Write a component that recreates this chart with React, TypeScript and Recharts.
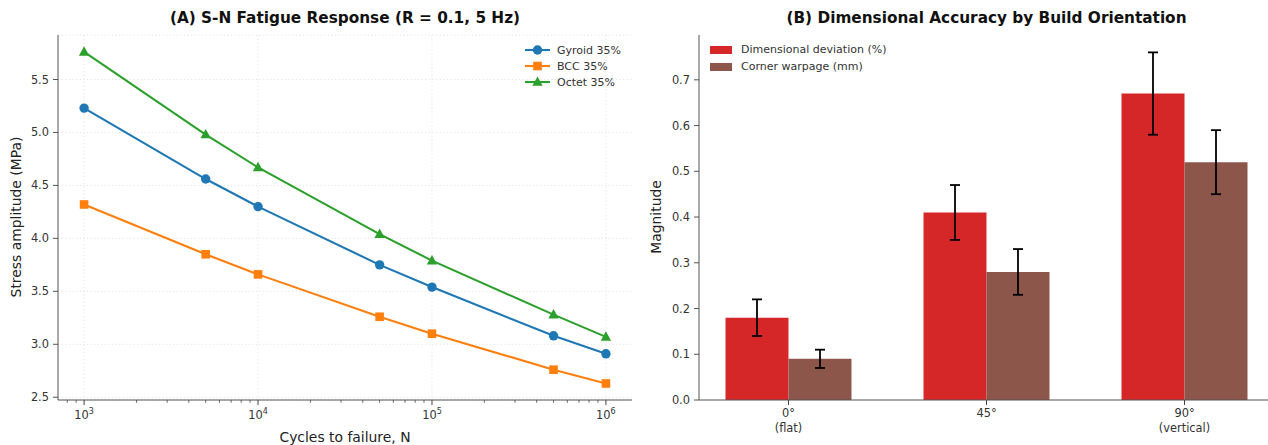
import React from "react"
import {
  LineChart,
  Line,
  BarChart,
  Bar,
  ErrorBar,
  XAxis,
  YAxis,
  CartesianGrid,
  ReferenceLine,
} from "recharts"

const FONT = "'DejaVu Sans', Verdana, sans-serif"

// (A) S-N fatigue
const cycles = [1e3, 5e3, 1e4, 5e4, 1e5, 5e5, 1e6]
const gyroid = [5.23, 4.56, 4.3, 3.75, 3.54, 3.08, 2.91]
const bcc = [4.32, 3.85, 3.66, 3.26, 3.1, 2.76, 2.63]
const octet = [5.76, 4.98, 4.67, 4.04, 3.79, 3.28, 3.07]
const majorCycleTicks = [1e3, 1e4, 1e5, 1e6]
const minorCycleTicks = [
  800, 900,
  2e3, 3e3, 4e3, 5e3, 6e3, 7e3, 8e3, 9e3,
  2e4, 3e4, 4e4, 5e4, 6e4, 7e4, 8e4, 9e4,
  2e5, 3e5, 4e5, 5e5, 6e5, 7e5, 8e5, 9e5,
]
const stressTicks = [2.5, 3.0, 3.5, 4.0, 4.5, 5.0, 5.5]

// (B) dimensional accuracy
const orientations = ["0°", "45°", "90°"]
const orientationNotes = ["(flat)", "", "(vertical)"]
const deviation = [0.18, 0.41, 0.67]
const deviationErr = [0.04, 0.06, 0.09]
const warpage = [0.09, 0.28, 0.52]
const warpageErr = [0.02, 0.05, 0.07]
const magnitudeTicks = [0, 0.1, 0.2, 0.3, 0.4, 0.5, 0.6, 0.7]

const fatigueData = cycles.map((n, i) => ({
  n,
  gyroid: gyroid[i],
  bcc: bcc[i],
  octet: octet[i],
}))

const accuracyData = orientations.map((label, i) => ({
  pos: i,
  label,
  deviation: deviation[i],
  deviationErr: deviationErr[i],
  warpage: warpage[i],
  warpageErr: warpageErr[i],
}))

const lineSeries = [
  { key: "gyroid", name: "Gyroid 35%", color: "#1f77b4", shape: "circle" },
  { key: "bcc", name: "BCC 35%", color: "#ff7f0e", shape: "square" },
  { key: "octet", name: "Octet 35%", color: "#2ca02c", shape: "triangle" },
]

const barSeries = [
  { key: "deviation", err: "deviationErr", name: "Dimensional deviation (%)", color: "#d62728" },
  { key: "warpage", err: "warpageErr", name: "Corner warpage (mm)", color: "#8c564b" },
]

const TICK_FONT = 11.4
const GRID = "#e3e3e3"

function Marker({ shape, cx, cy, color }: any) {
  if (cx == null || cy == null) return null
  if (shape === "square") {
    return <rect x={cx - 4.3} y={cy - 4.3} width={8.6} height={8.6} fill={color} />
  }
  if (shape === "triangle") {
    return (
      <polygon
        points={`${cx},${cy - 5.6} ${cx - 5.2},${cy + 3.8} ${cx + 5.2},${cy + 3.8}`}
        fill={color}
      />
    )
  }
  return <circle cx={cx} cy={cy} r={4.7} fill={color} />
}

function CycleTick({ x, y, payload }: any) {
  const v = payload.value
  const exp = Math.round(Math.log10(v))
  const major = majorCycleTicks.includes(v)
  return (
    <g>
      <line x1={x} x2={x} y1={y} y2={y + (major ? 5 : 2.8)} stroke="#444" strokeWidth={major ? 1 : 0.8} />
      {major && (
        <text x={x} y={y + 19} textAnchor="middle" fontSize={TICK_FONT} fill="#333" fontFamily={FONT}>
          10
          <tspan dy={-5} fontSize={8}>
            {exp}
          </tspan>
        </text>
      )}
    </g>
  )
}

function OrientationTick({ x, y, payload }: any) {
  const i = payload.value
  return (
    <g>
      <line x1={x} x2={x} y1={y} y2={y + 5} stroke="#444" />
      <text x={x} y={y + 17} textAnchor="middle" fontSize={TICK_FONT} fill="#333" fontFamily={FONT}>
        {orientations[i]}
      </text>
      {orientationNotes[i] && (
        <text x={x} y={y + 32} textAnchor="middle" fontSize={TICK_FONT} fill="#333" fontFamily={FONT}>
          {orientationNotes[i]}
        </text>
      )}
    </g>
  )
}

const titleStyle: React.CSSProperties = {
  position: "absolute",
  top: 9,
  fontSize: 15.3,
  fontWeight: "bold",
  color: "#111",
  textAlign: "center",
  whiteSpace: "nowrap",
}

const axisTitleStyle: React.CSSProperties = {
  position: "absolute",
  fontSize: 13.9,
  color: "#222",
  whiteSpace: "nowrap",
  lineHeight: "16px",
}

export default function App() {
  return (
    <div
      style={{
        position: "absolute",
        left: 0,
        top: 0,
        width: 1268,
        height: 445,
        overflow: "hidden",
        background: "#fff",
        fontFamily: FONT,
      }}
    >
      {/* (A) */}
      <div style={{ position: "absolute", left: 0, top: 0 }}>
        <LineChart
          width={640}
          height={445}
          data={fatigueData}
          margin={{ top: 35, right: 8, bottom: 0, left: 0 }}
        >
          <CartesianGrid vertical={false} stroke={GRID} strokeDasharray="1.2 2.4" />
          {majorCycleTicks.map((t) => (
            <ReferenceLine key={t} x={t} stroke={GRID} strokeDasharray="1.2 2.4" />
          ))}
          <XAxis
            dataKey="n"
            type="number"
            scale="log"
            domain={[707.9, 1412538]}
            ticks={[...minorCycleTicks, ...majorCycleTicks].sort((a, b) => a - b)}
            interval={0}
            tick={<CycleTick />}
            tickLine={false}
            tickSize={0}
            tickMargin={0}
            height={45}
            stroke="#555"
            allowDataOverflow
          />
          <YAxis
            type="number"
            domain={[2.474, 5.92]}
            ticks={stressTicks}
            tickFormatter={(v: number) => v.toFixed(1)}
            width={58}
            tickSize={5}
            tickMargin={4}
            stroke="#555"
            tick={{ fontSize: TICK_FONT, fill: "#333", fontFamily: FONT }}
            allowDataOverflow
          />
          {lineSeries.map((s) => (
            <Line
              key={s.key}
              dataKey={s.key}
              type="linear"
              stroke={s.color}
              strokeWidth={2.1}
              isAnimationActive={false}
              dot={(p: any) => (
                <Marker key={`${s.key}-${p.index}`} shape={s.shape} cx={p.cx} cy={p.cy} color={s.color} />
              )}
              activeDot={false}
            />
          ))}
        </LineChart>
      </div>
      <div style={{ ...titleStyle, left: 58, width: 574 }}>
        (A) S-N Fatigue Response (R = 0.1, 5 Hz)
      </div>
      <div style={{ ...axisTitleStyle, left: 58, width: 574, top: 429, textAlign: "center" }}>
        Cycles to failure, N
      </div>
      <div
        style={{
          ...axisTitleStyle,
          left: 16,
          top: 217,
          transform: "translate(-50%, -50%) rotate(-90deg)",
        }}
      >
        Stress amplitude (MPa)
      </div>
      <div style={{ position: "absolute", left: 525, top: 42, fontSize: 11, color: "#333" }}>
        {lineSeries.map((s) => (
          <div key={s.key} style={{ display: "flex", alignItems: "center", height: 16 }}>
            <svg width={26} height={12} style={{ marginRight: 6 }}>
              <line x1={0} x2={25} y1={6} y2={6} stroke={s.color} strokeWidth={2.1} />
              <Marker shape={s.shape} cx={12.5} cy={6} color={s.color} />
            </svg>
            <span>{s.name}</span>
          </div>
        ))}
      </div>

      {/* (B) */}
      <div style={{ position: "absolute", left: 640, top: 0 }}>
        <BarChart
          width={634}
          height={445}
          data={accuracyData}
          margin={{ top: 35, right: 0, bottom: 0, left: 0 }}
          barGap={0}
        >
          <XAxis
            dataKey="pos"
            type="number"
            domain={[-0.452, 2.452]}
            ticks={[0, 1, 2]}
            interval={0}
            tick={<OrientationTick />}
            tickLine={false}
            tickSize={0}
            tickMargin={0}
            height={45}
            stroke="#555"
            allowDataOverflow
          />
          <YAxis
            type="number"
            domain={[0, 0.798]}
            ticks={magnitudeTicks}
            tickFormatter={(v: number) => v.toFixed(1)}
            width={59}
            tickSize={5}
            tickMargin={4}
            stroke="#555"
            tick={{ fontSize: TICK_FONT, fill: "#333", fontFamily: FONT }}
            allowDataOverflow
          />
          {barSeries.map((s) => (
            <Bar key={s.key} dataKey={s.key} fill={s.color} barSize={63} isAnimationActive={false}>
              <ErrorBar dataKey={s.err} width={5} stroke="#000" strokeWidth={1.8} direction="y" />
            </Bar>
          ))}
        </BarChart>
      </div>
      <div style={{ ...titleStyle, left: 699, width: 575 }}>
        (B) Dimensional Accuracy by Build Orientation
      </div>
      <div
        style={{
          ...axisTitleStyle,
          left: 656,
          top: 217,
          transform: "translate(-50%, -50%) rotate(-90deg)",
        }}
      >
        Magnitude
      </div>
      <div style={{ position: "absolute", left: 710, top: 41, fontSize: 11, color: "#333" }}>
        {barSeries.map((s) => (
          <div key={s.key} style={{ display: "flex", alignItems: "center", height: 17 }}>
            <div style={{ width: 22, height: 8, background: s.color, marginRight: 9 }} />
            <span>{s.name}</span>
          </div>
        ))}
      </div>
    </div>
  )
}
